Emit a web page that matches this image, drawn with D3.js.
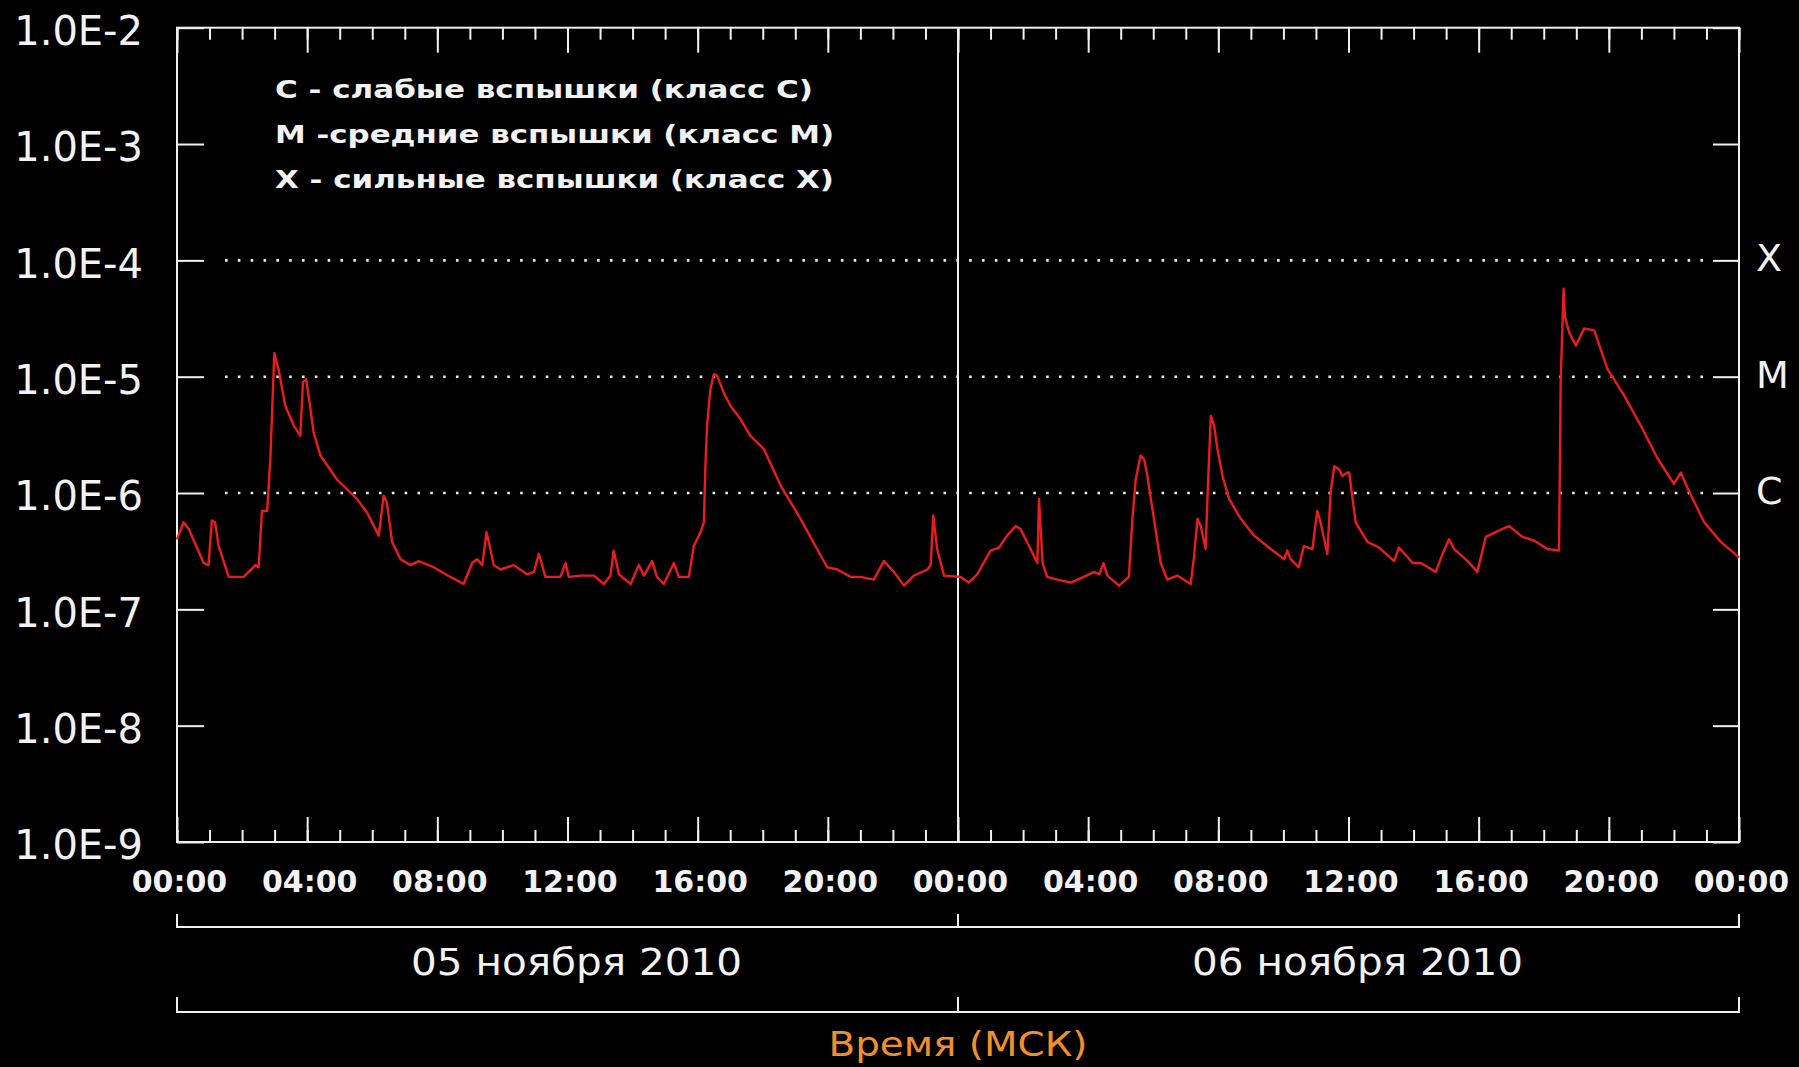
<!DOCTYPE html>
<html lang="ru">

<head>
    <meta charset="UTF-8">
    <title>Рентгеновский поток Солнца</title>
    <script src="https://d3js.org/d3.v7.min.js"></script>
    <style>
        html, body {
            margin: 0;
            padding: 0;
            background: #000;
        }

        svg {
            display: block;
        }

        svg text {
            fill: #f2f2f2;
            font-family: "DejaVu Sans", Verdana, sans-serif;
        }

        .legend text {
            font-weight: bold;
            font-size: 25px;
        }

        .ylabels text {
            font-size: 40px;
        }

        .xlabels text {
            font-size: 30px;
            font-weight: bold;
        }

        .axis-title {
            fill: #f0902c !important;
        }
    </style>
</head>

<body>
    <div id="chart"></div>

    <script>
        // hours after 05.11.2010 00:00 (MSK)
        var hours = [
            0.00, 0.20, 0.36, 0.82, 0.97, 1.07, 1.17, 1.28, 1.59, 2.05,
            2.41, 2.51, 2.61, 2.77, 2.87, 2.99, 3.12, 3.33, 3.59, 3.79,
            3.87, 3.97, 4.10, 4.20, 4.41, 4.92, 5.53, 5.84, 6.20, 6.35,
            6.45, 6.61, 6.87, 7.17, 7.43, 7.89, 8.40, 8.81, 9.07, 9.22,
            9.38, 9.51, 9.63, 9.73, 9.94, 10.35, 10.76, 10.97, 11.12, 11.22,
            11.32, 11.78, 11.94, 12.04, 12.40, 12.81, 13.12, 13.32, 13.42, 13.58,
            13.94, 14.19, 14.35, 14.60, 14.75, 14.96, 15.27, 15.42, 15.73, 15.88,
            16.09, 16.19, 16.24, 16.29, 16.39, 16.50, 16.60, 16.80, 17.01, 17.32,
            17.62, 18.03, 18.55, 19.16, 19.67, 19.98, 20.29, 20.70, 21.00, 21.41,
            21.72, 22.03, 22.34, 22.64, 23.06, 23.16, 23.24, 23.36, 23.57, 24.08,
            24.33, 24.59, 25.00, 25.26, 25.51, 25.77, 25.92, 26.23, 26.44, 26.49,
            26.60, 26.74, 27.05, 27.46, 27.87, 28.18, 28.34, 28.47, 28.59, 28.95,
            29.25, 29.36, 29.46, 29.61, 29.72, 29.82, 30.02, 30.23, 30.43, 30.74,
            31.15, 31.25, 31.36, 31.46, 31.61, 31.68, 31.77, 31.87, 31.97, 32.13,
            32.33, 32.69, 33.10, 33.61, 34.02, 34.12, 34.22, 34.47, 34.63, 34.89,
            35.04, 35.14, 35.35, 35.45, 35.56, 35.71, 35.81, 35.97, 36.02, 36.22,
            36.58, 36.94, 37.40, 37.55, 37.97, 38.22, 38.68, 38.89, 39.09, 39.25,
            39.66, 39.96, 40.22, 40.58, 40.93, 41.35, 41.70, 42.11, 42.47, 42.52,
            42.61, 42.65, 42.78, 42.99, 43.24, 43.55, 43.96, 44.47, 44.98, 45.49,
            46.00, 46.21, 46.42, 46.93, 47.44, 48.00
        ];

        // X-ray flux, W/m^2
        var flux = [
            4.0e-7, 5.6e-7, 4.9e-7, 2.5e-7, 2.4e-7, 5.8e-7, 5.6e-7, 3.5e-7, 1.9e-7, 1.9e-7,
            2.4e-7, 2.3e-7, 7.0e-7, 7.0e-7, 2.0e-6, 1.6e-5, 1.16e-5, 5.6e-6, 3.8e-6, 3.1e-6,
            9.0e-6, 9.5e-6, 5.3e-6, 3.3e-6, 2.1e-6, 1.3e-6, 8.9e-7, 6.8e-7, 4.3e-7, 9.5e-7,
            8.3e-7, 3.8e-7, 2.7e-7, 2.4e-7, 2.6e-7, 2.3e-7, 1.9e-7, 1.65e-7, 2.5e-7, 2.7e-7,
            2.4e-7, 4.6e-7, 3.3e-7, 2.4e-7, 2.2e-7, 2.4e-7, 2.0e-7, 2.1e-7, 3.0e-7, 2.4e-7,
            1.9e-7, 1.9e-7, 2.5e-7, 1.9e-7, 1.95e-7, 1.95e-7, 1.65e-7, 1.95e-7, 3.2e-7, 2.0e-7,
            1.65e-7, 2.4e-7, 1.95e-7, 2.6e-7, 1.9e-7, 1.65e-7, 2.5e-7, 1.9e-7, 1.9e-7, 3.5e-7,
            4.6e-7, 5.6e-7, 1.8e-6, 3.8e-6, 7.8e-6, 1.05e-5, 1.02e-5, 7.3e-6, 5.6e-6, 4.3e-6,
            3.1e-6, 2.4e-6, 1.16e-6, 6.0e-7, 3.3e-7, 2.3e-7, 2.2e-7, 1.9e-7, 1.9e-7, 1.8e-7,
            2.6e-7, 2.1e-7, 1.6e-7, 1.95e-7, 2.2e-7, 2.4e-7, 6.4e-7, 3.3e-7, 1.95e-7, 1.9e-7,
            1.7e-7, 2.0e-7, 3.2e-7, 3.4e-7, 4.3e-7, 5.2e-7, 4.9e-7, 3.3e-7, 2.5e-7, 8.9e-7,
            2.5e-7, 1.9e-7, 1.8e-7, 1.7e-7, 1.9e-7, 2.1e-7, 2.0e-7, 2.5e-7, 1.95e-7, 1.6e-7,
            1.9e-7, 6.0e-7, 1.3e-6, 2.1e-6, 1.95e-6, 1.4e-6, 6.0e-7, 2.5e-7, 1.8e-7, 1.95e-7,
            1.65e-7, 2.8e-7, 6.0e-7, 5.2e-7, 3.3e-7, 1.16e-6, 4.6e-6, 3.8e-6, 2.4e-6, 1.4e-6,
            8.9e-7, 6.0e-7, 4.3e-7, 3.3e-7, 2.7e-7, 3.2e-7, 2.7e-7, 2.3e-7, 3.5e-7, 3.3e-7,
            7.0e-7, 5.6e-7, 3.0e-7, 1.0e-6, 1.7e-6, 1.6e-6, 1.4e-6, 1.5e-6, 1.5e-6, 5.6e-7,
            3.8e-7, 3.4e-7, 2.6e-7, 3.4e-7, 2.5e-7, 2.5e-7, 2.1e-7, 3.0e-7, 4.0e-7, 3.3e-7,
            2.6e-7, 2.1e-7, 4.2e-7, 4.7e-7, 5.2e-7, 4.2e-7, 3.9e-7, 3.3e-7, 3.2e-7, 9.0e-6,
            5.7e-5, 3.3e-5, 2.4e-5, 1.85e-5, 2.6e-5, 2.5e-5, 1.16e-5, 6.9e-6, 3.8e-6, 2.0e-6,
            1.2e-6, 1.5e-6, 1.1e-6, 5.6e-7, 3.8e-7, 2.8e-7
        ];

        var yTicks = [1e-2, 1e-3, 1e-4, 1e-5, 1e-6, 1e-7, 1e-8, 1e-9];
        var classLevels = [1e-4, 1e-5, 1e-6];
        var classNames = ["X", "M", "C"];
        var legendLines = [
            "С - слабые вспышки (класс С)",
            "М -средние вспышки (класс М)",
            "Х - сильные вспышки (класс Х)"
        ];
        var legendWidths = [538, 559, 559];
        var days = [new Date(2010, 10, 5), new Date(2010, 10, 6), new Date(2010, 10, 7)];
        var dayLabels = ["05 ноября 2010", "06 ноября 2010"];
        var axisTitle = "Время (МСК)";

        var width = 1799,
            height = 1067,
            plotLeft = 177,
            plotRight = 1739,
            plotTop = 27.7,
            plotBottom = 842,
            lineColor = "#f0f0f0";

        var svg = d3.select("#chart")
            .append("svg")
            .attr("width", width)
            .attr("height", height)
            .style("background", "#000");

        var x = d3.scaleTime()
            .domain([days[0], days[2]])
            .range([plotLeft, plotRight]);

        var y = d3.scaleLog()
            .domain([1e-9, 1e-2])
            .range([plotBottom, plotTop]);

        var data = hours.map(function (h, i) {
            return { t: new Date(days[0].getTime() + h * 3600e3), v: flux[i] };
        });

        function styleTicks(g) {
            g.select(".domain").remove();
            g.selectAll(".tick line").attr("stroke", lineColor).attr("stroke-width", 2);
        }

        // dotted class levels
        svg.append("g")
            .selectAll("line")
            .data(classLevels)
            .enter()
            .append("line")
            .attr("x1", plotLeft + 48)
            .attr("x2", plotRight - 26)
            .attr("y1", function (d) { return y(d); })
            .attr("y2", function (d) { return y(d); })
            .attr("stroke", "#ececec")
            .attr("stroke-width", 2.6)
            .attr("stroke-dasharray", "2.6 10.23");

        // X / M / C labels on the right
        svg.append("g")
            .selectAll("text")
            .data(classLevels)
            .enter()
            .append("text")
            .attr("x", plotRight + 17)
            .attr("y", function (d) { return y(d) + 11; })
            .style("font-size", "38px")
            .text(function (d, i) { return classNames[i]; });

        // time ticks, top and bottom, pointing inward
        svg.append("g")
            .attr("transform", "translate(0," + plotBottom + ")")
            .call(d3.axisBottom(x).ticks(d3.timeHour.every(1)).tickSize(-12).tickFormat(""))
            .call(styleTicks);
        svg.append("g")
            .attr("transform", "translate(0," + plotBottom + ")")
            .call(d3.axisBottom(x).ticks(d3.timeHour.every(4)).tickSize(-25).tickFormat(""))
            .call(styleTicks);
        svg.append("g")
            .attr("transform", "translate(0," + plotTop + ")")
            .call(d3.axisTop(x).ticks(d3.timeHour.every(1)).tickSize(-12).tickFormat(""))
            .call(styleTicks);
        svg.append("g")
            .attr("transform", "translate(0," + plotTop + ")")
            .call(d3.axisTop(x).ticks(d3.timeHour.every(4)).tickSize(-25).tickFormat(""))
            .call(styleTicks);

        // time labels
        svg.append("g")
            .attr("class", "xlabels")
            .attr("transform", "translate(0," + plotBottom + ")")
            .call(d3.axisBottom(x).ticks(d3.timeHour.every(4)).tickSize(0).tickFormat(d3.timeFormat("%H:%M")))
            .call(function (g) {
                g.select(".domain").remove();
                g.selectAll("text")
                    .attr("fill", null)
                    .attr("x", 2)
                    .attr("y", 50)
                    .attr("dy", null);
            });

        // flux ticks, left and right
        svg.append("g")
            .attr("transform", "translate(" + plotLeft + ",0)")
            .call(d3.axisLeft(y).tickValues(yTicks).tickSize(-27).tickFormat(""))
            .call(styleTicks);
        svg.append("g")
            .attr("transform", "translate(" + plotRight + ",0)")
            .call(d3.axisRight(y).tickValues(yTicks).tickSize(-26).tickFormat(""))
            .call(styleTicks);

        svg.append("g")
            .attr("class", "ylabels")
            .attr("transform", "translate(" + plotLeft + ",0)")
            .call(d3.axisLeft(y).tickValues(yTicks).tickSize(0).tickPadding(34)
                .tickFormat(function (d) { return "1.0E" + Math.round(Math.log10(d)); }))
            .call(function (g) {
                g.select(".domain").remove();
                g.selectAll("text").attr("fill", null).attr("dy", "0.42em");
            });

        // frame and day divider
        svg.append("rect")
            .attr("x", plotLeft)
            .attr("y", plotTop)
            .attr("width", plotRight - plotLeft)
            .attr("height", plotBottom - plotTop)
            .attr("fill", "none")
            .attr("stroke", lineColor)
            .attr("stroke-width", 2);

        svg.append("line")
            .attr("x1", x(days[1]))
            .attr("x2", x(days[1]))
            .attr("y1", plotTop)
            .attr("y2", plotBottom)
            .attr("stroke", lineColor)
            .attr("stroke-width", 2);

        // flux curve
        var line = d3.line()
            .x(function (d) { return x(d.t); })
            .y(function (d) { return y(d.v); });

        svg.append("path")
            .datum(data)
            .attr("d", line)
            .attr("fill", "none")
            .attr("stroke", "#ea1c1c")
            .attr("stroke-width", 2.4)
            .attr("stroke-linejoin", "round");

        // legend
        svg.append("g")
            .attr("class", "legend")
            .selectAll("text")
            .data(legendLines)
            .enter()
            .append("text")
            .attr("x", 275)
            .attr("y", function (d, i) { return 98 + i * 45; })
            .attr("textLength", function (d, i) { return legendWidths[i]; })
            .attr("lengthAdjust", "spacingAndGlyphs")
            .text(function (d) { return d; });

        // brackets under the axis
        function bracket(yPos, tick) {
            var mid = x(days[1]);
            svg.append("path")
                .attr("d", "M" + plotLeft + "," + (yPos - tick) + "V" + yPos + "H" + plotRight + "V" + (yPos - tick) +
                    "M" + mid + "," + yPos + "V" + (yPos - tick))
                .attr("fill", "none")
                .attr("stroke", lineColor)
                .attr("stroke-width", 2);
        }
        bracket(927, 13);
        bracket(1012, 15);

        // day labels
        svg.append("g")
            .selectAll("text")
            .data(dayLabels)
            .enter()
            .append("text")
            .attr("x", function (d, i) { return (x(days[i]) + x(days[i + 1])) / 2 + 9; })
            .attr("y", 975)
            .attr("text-anchor", "middle")
            .attr("textLength", 331)
            .attr("lengthAdjust", "spacingAndGlyphs")
            .style("font-size", "38px")
            .text(function (d) { return d; });

        // axis title
        svg.append("text")
            .attr("class", "axis-title")
            .attr("x", x(days[1]))
            .attr("y", 1056)
            .attr("text-anchor", "middle")
            .attr("textLength", 259)
            .attr("lengthAdjust", "spacingAndGlyphs")
            .style("font-size", "33px")
            .text(axisTitle);
    </script>
</body>

</html>
